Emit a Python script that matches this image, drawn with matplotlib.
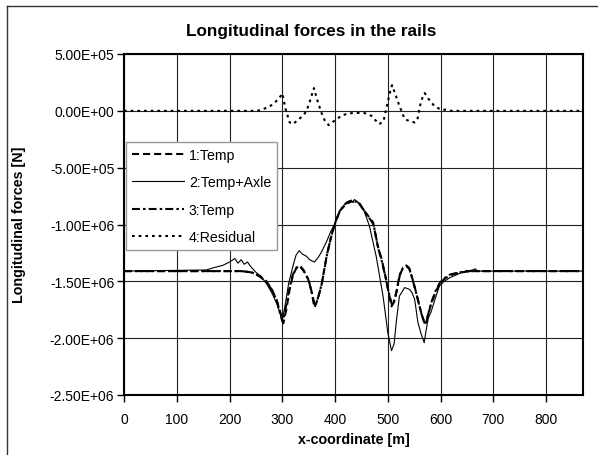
import matplotlib
matplotlib.use('Agg')
import matplotlib.pyplot as plt
from matplotlib.lines import Line2D

plt.rcParams['font.family'] = ['Liberation Sans', 'DejaVu Sans']

# Series 1: Temp
x1 = [0, 200, 220, 240, 257, 270, 280, 289, 298, 302, 308, 314, 320, 327, 333, 340, 349,
      355, 361, 367, 374, 384, 392, 399, 409, 421, 430, 440, 447, 453, 462, 472, 481, 488,
      494, 500, 507, 512, 517, 522, 528, 535, 540, 545, 551, 557, 563, 569, 572, 576, 582,
      590, 598, 607, 617, 630, 648, 665, 870]
y1 = [-1.41, -1.41, -1.41, -1.42, -1.45, -1.50, -1.57, -1.66, -1.80, -1.87, -1.74, -1.57,
      -1.45, -1.38, -1.36, -1.40, -1.48, -1.58, -1.73, -1.66, -1.54, -1.28, -1.12, -1.00,
      -0.88, -0.82, -0.80, -0.80, -0.82, -0.865, -0.92, -0.98, -1.19, -1.30, -1.42, -1.56,
      -1.72, -1.68, -1.58, -1.45, -1.39, -1.36, -1.38, -1.45, -1.55, -1.66, -1.77, -1.86,
      -1.88, -1.80, -1.70, -1.60, -1.525, -1.48, -1.45, -1.43, -1.415, -1.41, -1.41]

# Series 2: Temp+Axle
x2 = [0, 156, 170, 187, 200, 210, 216, 222, 228, 234, 242, 250, 260, 270, 280, 290, 297,
      300, 305, 312, 320, 326, 332, 338, 346, 352, 361, 368, 374, 384, 392, 399, 409, 420,
      428, 434, 437, 442, 448, 455, 465, 478, 491, 500, 507, 512, 516, 522, 532, 541, 546,
      551, 557, 563, 569, 573, 577, 582, 590, 598, 607, 617, 636, 650, 661, 666, 670, 870]
y2 = [-1.41, -1.40, -1.38, -1.36, -1.33, -1.30, -1.34, -1.31, -1.35, -1.33, -1.38, -1.42,
      -1.46, -1.52, -1.60, -1.70, -1.80, -1.84, -1.72, -1.52, -1.37, -1.27, -1.23, -1.26,
      -1.28, -1.31, -1.33, -1.29, -1.245, -1.15, -1.06, -1.00, -0.88, -0.81, -0.79, -0.80,
      -0.78, -0.80, -0.82, -0.88, -1.01, -1.28, -1.63, -1.95, -2.11, -2.05, -1.86, -1.63,
      -1.555, -1.57, -1.60, -1.66, -1.86, -1.96, -2.04, -1.92, -1.82, -1.77, -1.65, -1.54,
      -1.50, -1.47, -1.43, -1.41, -1.40, -1.39, -1.41, -1.41]

# Series 3: Temp
x3 = [0, 200, 222, 242, 258, 271, 281, 290, 298, 301, 307, 314, 320, 327, 334, 341, 350,
      356, 362, 368, 375, 385, 393, 400, 410, 422, 431, 441, 448, 454, 463, 473, 482, 489,
      495, 501, 508, 513, 518, 523, 529, 536, 541, 546, 552, 558, 564, 570, 573, 577, 583,
      591, 599, 608, 618, 632, 650, 668, 870]
y3 = [-1.41, -1.41, -1.41, -1.42, -1.46, -1.51, -1.58, -1.68, -1.82, -1.86, -1.72, -1.55,
      -1.44, -1.38, -1.37, -1.41, -1.49, -1.60, -1.72, -1.64, -1.52, -1.26, -1.10, -0.99,
      -0.87, -0.81, -0.79, -0.80, -0.83, -0.87, -0.93, -1.00, -1.21, -1.33, -1.45, -1.58,
      -1.71, -1.66, -1.56, -1.44, -1.38, -1.37, -1.39, -1.47, -1.57, -1.68, -1.79, -1.87,
      -1.86, -1.78, -1.68, -1.58, -1.51, -1.47, -1.44, -1.425, -1.41, -1.41, -1.41]

# Series 4: Residual
x4 = [0, 250, 258, 267, 278, 286, 294, 300, 306, 314, 320, 330, 340, 346, 352, 360, 366,
      374, 381, 388, 398, 412, 424, 440, 456, 469, 477, 484, 492, 499, 504, 508, 514, 522,
      532, 541, 551, 556, 561, 566, 570, 578, 588, 601, 610, 620, 870]
y4 = [0, 0, 0.05, 0.21, 0.45, 0.74, 1.1, 1.53, 0.2, -1.02, -1.17, -0.8, -0.4, 0, 0.8, 2.0,
      1.0, -0.14, -0.9, -1.26, -0.9, -0.44, -0.23, -0.18, -0.2, -0.44, -0.85, -1.17, -0.9,
      0.59, 1.6, 2.26, 1.5, 0.44, -0.73, -0.9, -1.02, -0.8, 0.44, 1.2, 1.56, 1.0, 0.44,
      0.09, 0.1, 0, 0]

labels = ['1:Temp', '2:Temp+Axle', '3:Temp', '4:Residual']
x_ticks = list(range(0, 900, 100))
y_ticks = [5e5, 0, -5e5, -1e6, -1.5e6, -2e6, -2.5e6]

fig = plt.figure(figsize=(5.98, 4.56), dpi=100)
ax = fig.add_axes([124 / 598, 60 / 456, 459 / 598, 341 / 456])

ax.plot(x1, [v * 1e6 for v in y1], color='black', lw=1.5, ls=(0, (3.4, 1.9)), label=labels[0])
ax.plot(x2, [v * 1e6 for v in y2], color='black', lw=0.8, ls='-', label=labels[1])
ax.plot(x3, [v * 1e6 for v in y3], color='black', lw=1.5, ls=(0, (3.8, 1.5, 1.2, 1.5)), label=labels[2])
ax.plot(x4, [v * 1e5 for v in y4], color='black', lw=1.5, ls=(0, (1.3, 1.9)), label=labels[3])

ax.set_xlim(0, 870)
ax.set_ylim(-2.5e6, 5e5)
ax.set_xticks(x_ticks)
ax.set_yticks(y_ticks)
ax.set_yticklabels([f'{v:.2E}' for v in y_ticks])
ax.tick_params(labelsize=10, direction='out', length=5, width=1)
ax.tick_params(axis='y', pad=2)
ax.tick_params(axis='x', pad=7)
ax.grid(True, color='#222222', lw=0.8)
ax.set_axisbelow(True)
for s in ax.spines.values():
    s.set_linewidth(1.5)

leg = ax.legend(loc='upper left', bbox_to_anchor=(0.004, 0.742), fontsize=10.2,
                handlelength=3.7, handletextpad=0.35, labelspacing=0.95,
                borderpad=0.4, borderaxespad=0, fancybox=False, framealpha=1)
leg.get_frame().set_edgecolor('#999999')
leg.get_frame().set_linewidth(1)

fig.text(311 / 598, 1 - 36 / 456, 'Longitudinal forces in the rails', ha='center', va='baseline',
         fontsize=12.3, fontweight='bold')
fig.text(353.5 / 598, 1 - 440 / 456, 'x-coordinate [m]', ha='center', va='center',
         fontsize=10.3, fontweight='bold')
fig.text(19 / 598, 1 - 225 / 456, 'Longitudinal forces [N]', ha='center', va='center',
         rotation=90, fontsize=10.3, fontweight='bold')

# chart area frame
fig.add_artist(Line2D([7 / 598, 7 / 598], [0, 1 - 7 / 456], transform=fig.transFigure,
                      color='#333333', lw=1))
fig.add_artist(Line2D([7 / 598, 1], [1 - 7 / 456, 1 - 7 / 456], transform=fig.transFigure,
                      color='#333333', lw=1))

fig.savefig('out.png', dpi=100)
